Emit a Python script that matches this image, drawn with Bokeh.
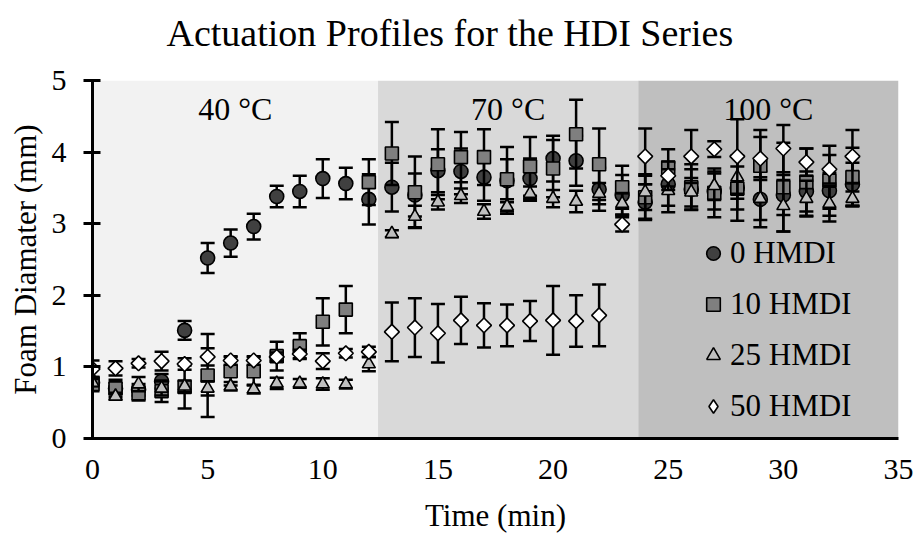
import math
from bokeh.plotting import figure
from bokeh.models import Range1d, Legend, LegendItem, FixedTicker, Title
from bokeh.embed import file_html
from bokeh.resources import INLINE
from bokeh.core.properties import value

# ---------------- data ----------------
time = list(range(34))  # minutes

names = ["0 HMDI", "10 HMDI", "25 HMDI", "50 HMDI"]

vals0 = [0.78, 0.70, 0.68, 0.80, 1.51, 2.52, 2.73, 2.96, 3.38, 3.45, 3.63, 3.56,
         3.34, 3.51, 3.40, 3.74, 3.73, 3.65, 3.60, 3.63, 3.91, 3.88, 3.48, 3.40,
         3.30, 3.55, 3.48, 3.45, 3.50, 3.34, 3.40, 3.45, 3.46, 3.55]
err0 = [0.08, 0.08, 0.08, 0.10, 0.13, 0.21, 0.19, 0.18, 0.15, 0.22, 0.27, 0.22,
        0.35, 0.34, 0.30, 0.30, 0.32, 0.33, 0.30, 0.28, 0.32, 0.35, 0.30, 0.28,
        0.25, 0.30, 0.28, 0.25, 0.30, 0.39, 0.28, 0.28, 0.25, 0.30]

vals10 = [0.76, 0.70, 0.63, 0.66, 0.72, 0.88, 0.94, 0.94, 1.15, 1.29, 1.63, 1.80,
          3.58, 3.98, 3.44, 3.83, 3.93, 3.93, 3.62, 3.80, 3.77, 4.25, 3.83, 3.51,
          3.37, 3.78, 3.51, 3.43, 3.49, 3.81, 3.51, 3.58, 3.60, 3.65]
err10 = [0.10, 0.12, 0.10, 0.15, 0.30, 0.58, 0.20, 0.20, 0.20, 0.18, 0.33, 0.33,
         0.32, 0.44, 0.50, 0.49, 0.35, 0.39, 0.45, 0.41, 0.40, 0.48, 0.50, 0.30,
         0.30, 0.26, 0.32, 0.34, 0.45, 0.50, 0.62, 0.47, 0.49, 0.41]

vals25 = [0.78, 0.59, 0.76, 0.70, 0.73, 0.70, 0.73, 0.69, 0.77, 0.77, 0.76, 0.76,
          1.04, 2.86, 3.10, 3.30, 3.39, 3.17, 3.24, 3.42, 3.35, 3.31, 3.42, 3.28,
          3.44, 3.46, 3.44, 3.53, 3.65, 3.35, 3.25, 3.35, 3.28, 3.35]
err25 = [0.05, 0.05, 0.10, 0.10, 0.08, 0.10, 0.06, 0.06, 0.08, 0.06, 0.08, 0.06,
         0.10, 0.05, 0.15, 0.10, 0.10, 0.10, 0.10, 0.10, 0.12, 0.15, 0.15, 0.15,
         0.25, 0.30, 0.20, 0.20, 0.30, 0.30, 0.36, 0.25, 0.25, 0.10]

vals50 = [0.97, 0.98, 1.05, 1.08, 1.04, 1.14, 1.09, 1.09, 1.14, 1.18, 1.08, 1.19,
          1.21, 1.49, 1.55, 1.47, 1.65, 1.58, 1.58, 1.64, 1.65, 1.64, 1.72, 2.99,
          3.94, 3.67, 3.94, 4.04, 3.94, 3.91, 4.05, 3.86, 3.76, 3.94]
err50 = [0.12, 0.10, 0.06, 0.13, 0.08, 0.12, 0.06, 0.06, 0.06, 0.06, 0.11, 0.06,
         0.07, 0.41, 0.41, 0.41, 0.33, 0.31, 0.29, 0.28, 0.48, 0.36, 0.43, 0.10,
         0.39, 0.20, 0.37, 0.11, 0.52, 0.30, 0.33, 0.19, 0.20, 0.37]

band_start = [0, 12.4, 23.7]
band_end = [12.4, 23.7, 35]
band_label = ["40 °C", "70 °C", "100 °C"]
band_color = ["#f2f2f2", "#d9d9d9", "#bfbfbf"]
band_label_y = 4.6

x_ticks = [0, 5, 10, 15, 20, 25, 30, 35]
y_ticks = [0, 1, 2, 3, 4, 5]

TITLE = "Actuation Profiles for the HDI Series"
FONT = "Liberation Serif"

# ---------------- figure ----------------
p = figure(width=919, height=537, x_range=Range1d(0, 35), y_range=Range1d(0, 5),
           output_backend="svg", toolbar_location=None,
           min_border_left=92, min_border_right=21, min_border_top=80, min_border_bottom=99)
p.outline_line_color = None
p.grid.visible = False
p.background_fill_color = "white"
p.border_fill_color = "white"

# spacer between the frame and the title (lifts the title toward the top edge)
p.add_layout(Title(text=" ", text_font_size="10px", standoff=14), "above")

p.title.text = TITLE
p.title.text_font = FONT
p.title.text_font_size = "38px"
p.title.text_font_style = "normal"
p.title.text_color = "black"
p.title.align = "left"
p.title.offset = 74
p.title.standoff = 0

# temperature bands
p.quad(left=band_start, right=band_end, bottom=0, top=5,
       fill_color=band_color, line_color=None)
p.text(x=[(s + e) / 2 for s, e in zip(band_start, band_end)],
       y=[band_label_y] * len(band_label), text=band_label,
       text_align="center", text_baseline="alphabetic",
       text_font=value(FONT), text_font_size="32px", text_color="black")

styles = [
    dict(marker="circle", size=14, fill_color="#404040", angle=0),
    dict(marker="square", size=13, fill_color="#7f7f7f", angle=0),
    dict(marker="triangle", size=13, fill_color="#bfbfbf", angle=0),
    dict(marker="square", size=10.5, fill_color="white", angle=math.pi / 4),
]

renderers = []
for vals, errs, st in zip([vals0, vals10, vals25, vals50],
                          [err0, err10, err25, err50], styles):
    lo = [v - e for v, e in zip(vals, errs)]
    hi = [v + e for v, e in zip(vals, errs)]
    p.segment(x0=time, y0=lo, x1=time, y1=hi, line_color="black", line_width=2.5)
    p.scatter(x=time + time, y=lo + hi, marker="dash", size=14,
              line_color="black", line_width=2.5)
    r = p.scatter(x=time, y=vals, marker=st["marker"], size=st["size"],
                  angle=st["angle"], fill_color=st["fill_color"],
                  line_color="black", line_width=1.6)
    renderers.append(r)

# legend proxy for the diamond (legend does not rotate markers); draws nothing in the plot
nan = float("nan")
proxy50 = p.scatter(x=[nan], y=[nan], marker="diamond", size=14, fill_color="white",
                    line_color="black", line_width=1.6)
leg_renderers = renderers[:3] + [proxy50]

legend = Legend(items=[LegendItem(label=n, renderers=[r]) for n, r in zip(names, leg_renderers)],
                location=(604, 14), orientation="vertical",
                glyph_width=34, glyph_height=36, label_height=36, label_standoff=0,
                spacing=15, padding=0, margin=0,
                border_line_color=None, background_fill_alpha=0,
                label_text_font=FONT, label_text_font_size="31px", label_text_color="black")
p.add_layout(legend)

# axes
for ax in (p.xaxis[0], p.yaxis[0]):
    ax.axis_line_color = "black"
    ax.axis_line_width = 3
    ax.major_tick_line_color = "black"
    ax.major_tick_line_width = 3
    ax.minor_tick_line_color = None
    ax.major_label_text_font = FONT
    ax.major_label_text_font_size = "30px"
    ax.major_label_text_color = "black"
    ax.axis_label_text_font = FONT
    ax.axis_label_text_font_size = "31px"
    ax.axis_label_text_font_style = "normal"
    ax.axis_label_text_color = "black"

p.xaxis.ticker = FixedTicker(ticks=x_ticks)
p.yaxis.ticker = FixedTicker(ticks=y_ticks)
p.xaxis.major_tick_in = 0
p.xaxis.major_tick_out = 0
p.xaxis.major_label_standoff = 21
p.xaxis.axis_label = "Time (min)"
p.xaxis.axis_label_standoff = 16
p.yaxis.major_tick_in = 8
p.yaxis.major_tick_out = 9
p.yaxis.major_label_standoff = 17
p.yaxis.axis_label = "Foam Diamater (mm)"
p.yaxis.axis_label_standoff = 6

open("out.html", "w").write(file_html(p, INLINE))
